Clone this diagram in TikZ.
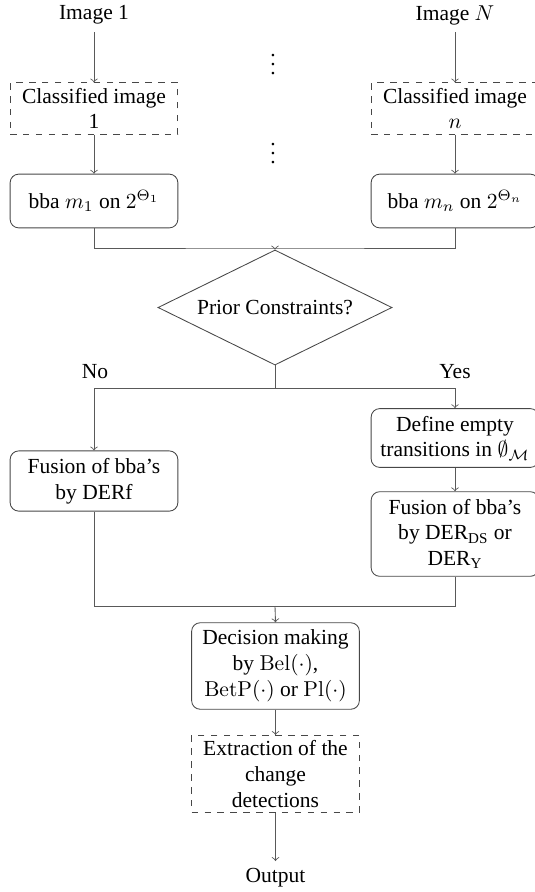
\documentclass[tikz,border=0pt]{standalone}
\usepackage[no-math]{fontspec}
\setmainfont{Liberation Serif}
\usepackage{tikz}
\usetikzlibrary{shapes.geometric}

\tikzset{
  lnk/.style={draw=black!65, line width=0.4pt},
  procbox/.style={draw=black!72, rounded corners=4pt, align=center, minimum width=78pt, inner sep=3.4pt, minimum height=25pt},
  databox/.style={draw=black!72, dashed, align=center, minimum width=78pt, inner sep=2.4pt},
  askbox/.style={draw=black!72, diamond, aspect=2.03, minimum width=108.8pt, minimum height=53.5pt, inner sep=0pt},
}

\begin{document}
\begin{tikzpicture}[x=0.465pt,y=0.465pt,yscale=-1,xscale=1]
\useasboundingbox (0,0) rectangle (535,892);

% Text Node
\node (img1) at (94,15) {Image 1};
% Text Node
\node (imgN) at (455,15) {Image $N$};
% Dashed boxes
\node [databox] (cls1) at (94,108.5) {Classified image\\1};
\node [databox] (clsN) at (455,108.5) {Classified image\\$n$};
% Rounded boxes
\node [procbox] (bba1) at (94,201) {bba $m_1$ on $2^{\Theta_1}$};
\node [procbox] (bbaN) at (455,201) {bba $m_n$ on $2^{\Theta_n}$};
% Dots
\node (dotsA) at (273,58) {$\vdots$};
\node (dotsB) at (273,147) {$\vdots$};
% Decision
\node [askbox] (prior) at (275,307.5) {Prior Constraints?};
\node (no) at (95,372) {No};
\node (yes) at (455,372) {Yes};
% Branches
\node [procbox] (fusA) at (94,481) {Fusion of bba's\\by DERf};
\node [procbox] (defE) at (455,438) {Define empty\\transitions in $\emptyset_{\mathcal{M}}$};
\node [procbox] (fusB) at (455,534) {Fusion of bba's\\by DER\textsubscript{DS} or\\DER\textsubscript{Y}};
\node [procbox] (decide) at (275.5,666) {Decision making\\by $\mathrm{Bel}(\cdot)$,\\$\mathrm{BetP}(\cdot)$ or $\mathrm{Pl}(\cdot)$};
\node [databox] (extract) at (275.5,774) {Extraction of the\\change\\detections};
\node (output) at (275.5,878) {Output};

\coordinate (join1) at (275,248);
\coordinate (split) at (275,388);
\coordinate (join2) at (275,606);

%Straight Lines
\draw [lnk,->] (img1) -- (cls1);
\draw [lnk,->] (imgN) -- (clsN);
\draw [lnk,->] (cls1) -- (bba1);
\draw [lnk,->] (clsN) -- (bbaN);
\draw [lnk] (bba1.south) |- (join1) -| (bbaN.south);
\draw [lnk,->] (join1) -- (prior.north);
\draw [lnk] (prior.south) -- (split);
\draw [lnk,->] (split) -| (fusA.north);
\draw [lnk,->] (split) -| (defE.north);
\draw [lnk,->] (defE) -- (fusB);
\draw [lnk] (fusA.south) |- (join2) -| (fusB.south);
\draw [lnk,->] (join2) -- (decide.north);
\draw [lnk,->] (decide) -- (extract);
\draw [lnk,->] (extract) -- (output);

\end{tikzpicture}
\end{document}
